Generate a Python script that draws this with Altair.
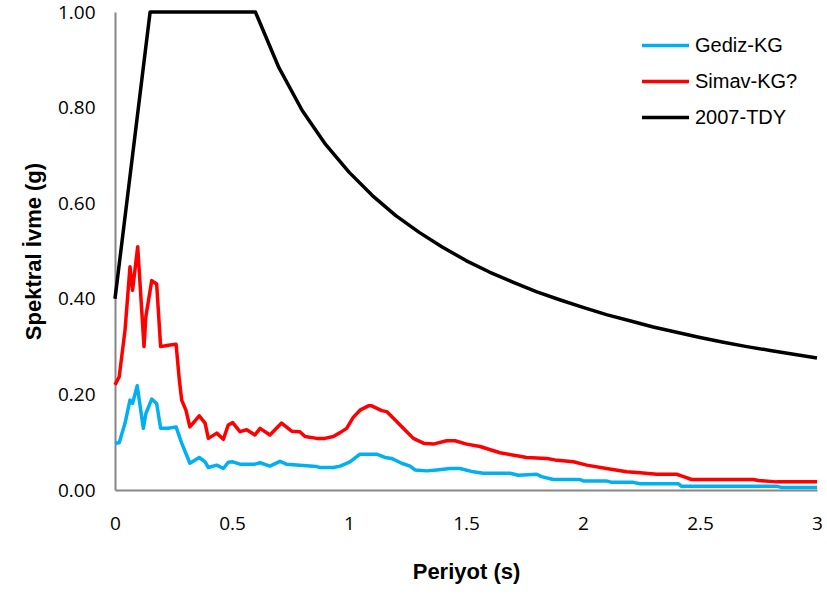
import altair as alt
import pandas as pd

# ---- data ----
series_names = ["Gediz-KG", "Simav-KG?", "2007-TDY"]
series_colors = ["#00B0F0", "#FF0000", "#000000"]

T_gediz = [0, 0.018, 0.043, 0.064, 0.075, 0.095, 0.121, 0.132, 0.157, 0.178,
           0.195, 0.228, 0.261, 0.285, 0.32, 0.36, 0.385, 0.399, 0.435, 0.463,
           0.484, 0.503, 0.534, 0.598, 0.62, 0.662, 0.705, 0.733, 0.79, 0.862,
           0.876, 0.933, 0.962, 1.004, 1.047, 1.118, 1.154, 1.182, 1.225, 1.261,
           1.282, 1.332, 1.375, 1.432, 1.474, 1.531, 1.574, 1.688, 1.724, 1.802,
           1.823, 1.873, 1.987, 2.001, 2.1, 2.123, 2.215, 2.244, 2.408, 2.42,
           2.827, 2.85, 3.0]
Sa_gediz = [0.098, 0.099, 0.14, 0.188, 0.181, 0.218, 0.129, 0.16, 0.19, 0.181,
            0.129, 0.129, 0.132, 0.098, 0.056, 0.068, 0.059, 0.047, 0.052, 0.045,
            0.058, 0.059, 0.054, 0.054, 0.057, 0.05, 0.06, 0.054, 0.052, 0.049,
            0.047, 0.047, 0.05, 0.059, 0.075, 0.075, 0.068, 0.066, 0.056, 0.05,
            0.042, 0.04, 0.042, 0.045, 0.045, 0.038, 0.035, 0.035, 0.031, 0.033,
            0.028, 0.022, 0.022, 0.019, 0.019, 0.016, 0.016, 0.013, 0.013, 0.008,
            0.008, 0.005, 0.005]

T_simav = [0, 0.018, 0.043, 0.064, 0.075, 0.097, 0.124, 0.132, 0.157, 0.178,
           0.195, 0.228, 0.261, 0.275, 0.285, 0.303, 0.32, 0.36, 0.385, 0.399,
           0.435, 0.463, 0.484, 0.503, 0.534, 0.563, 0.598, 0.62, 0.662, 0.712,
           0.755, 0.79, 0.812, 0.862, 0.897, 0.933, 0.962, 0.99, 1.018, 1.047,
           1.083, 1.097, 1.14, 1.161, 1.19, 1.232, 1.275, 1.318, 1.36, 1.417,
           1.453, 1.503, 1.56, 1.645, 1.724, 1.759, 1.845, 1.88, 1.959, 2.016,
           2.1, 2.187, 2.244, 2.315, 2.4, 2.43, 2.464, 2.728, 2.75, 2.827, 3.0]
Sa_simav = [0.22, 0.237, 0.335, 0.467, 0.418, 0.509, 0.30, 0.363, 0.438, 0.431,
            0.30, 0.303, 0.305, 0.23, 0.188, 0.167, 0.132, 0.155, 0.14, 0.108,
            0.119, 0.106, 0.136, 0.141, 0.122, 0.126, 0.115, 0.129, 0.115, 0.14,
            0.123, 0.122, 0.112, 0.108, 0.108, 0.112, 0.12, 0.129, 0.152, 0.167,
            0.176, 0.176, 0.166, 0.164, 0.15, 0.129, 0.108, 0.098, 0.096, 0.103,
            0.103, 0.096, 0.091, 0.078, 0.071, 0.068, 0.066, 0.063, 0.059, 0.052,
            0.045, 0.038, 0.036, 0.033, 0.033, 0.028, 0.022, 0.022, 0.02, 0.017,
            0.017]

T_tdy = [0, 0.15, 0.6, 0.7, 0.8, 0.9, 1.0, 1.1, 1.2, 1.3, 1.4, 1.5, 1.6, 1.7,
         1.8, 1.9, 2.0, 2.1, 2.2, 2.3, 2.4, 2.5, 2.6, 2.7, 2.8, 2.9, 3.0]
Sa_tdy = [0.40, 1.0, 1.0, 0.884, 0.794, 0.723, 0.665, 0.616, 0.574, 0.539,
          0.508, 0.480, 0.456, 0.435, 0.415, 0.398, 0.382, 0.367, 0.354, 0.341,
          0.330, 0.319, 0.309, 0.300, 0.292, 0.284, 0.276]

x_ticks = [0, 0.5, 1, 1.5, 2, 2.5, 3]
y_ticks = [0, 0.2, 0.4, 0.6, 0.8, 1.0]

rows = []
for name, ts, vs in [(series_names[0], T_gediz, Sa_gediz),
                     (series_names[1], T_simav, Sa_simav),
                     (series_names[2], T_tdy, Sa_tdy)]:
    for i, (t, v) in enumerate(zip(ts, vs)):
        rows.append({"seri": name, "T": t, "Sa": v, "i": i})
df = pd.DataFrame(rows)

chart = alt.Chart(df).mark_line(strokeWidth=3.5, strokeJoin="round").encode(
    x=alt.X("T:Q",
            scale=alt.Scale(domain=[0, 3], nice=False, zero=False),
            axis=alt.Axis(title="Periyot (s)", values=x_ticks, format="~g",
                          labelFlush=False, labelPadding=24, titlePadding=28,
                          titleFontSize=22)),
    y=alt.Y("Sa:Q",
            scale=alt.Scale(domain=[0, 1], nice=False),
            axis=alt.Axis(title="Spektral İvme (g)", values=y_ticks, format=".2f",
                          labelPadding=20, titlePadding=12, titleFontSize=22)),
    color=alt.Color("seri:N",
                    scale=alt.Scale(domain=series_names, range=series_colors),
                    legend=alt.Legend(title=None, orient="none", legendX=525,
                                      legendY=8, symbolType="stroke",
                                      symbolSize=2209, symbolStrokeWidth=3.5,
                                      labelFontSize=20, labelFont="Liberation Sans",
                                      labelColor="#000000", labelOffset=4,
                                      rowPadding=-14, padding=0)),
    order="i:Q",
).properties(
    width=702, height=478,
    autosize=alt.AutoSizeParams(type="none"),
    padding={"left": 115, "top": 12, "right": 10, "bottom": 104},
).configure_view(stroke=None).configure_axis(
    grid=False, ticks=False,
    domainColor="#868686", domainWidth=2,
    labelFont="Open Sans", labelFontSize=19, labelColor="#000000",
    titleFont="Liberation Sans", titleFontWeight="bold",
    titleColor="#000000",
)

chart.save("out.html", embed_options={"renderer": "svg", "actions": False})
